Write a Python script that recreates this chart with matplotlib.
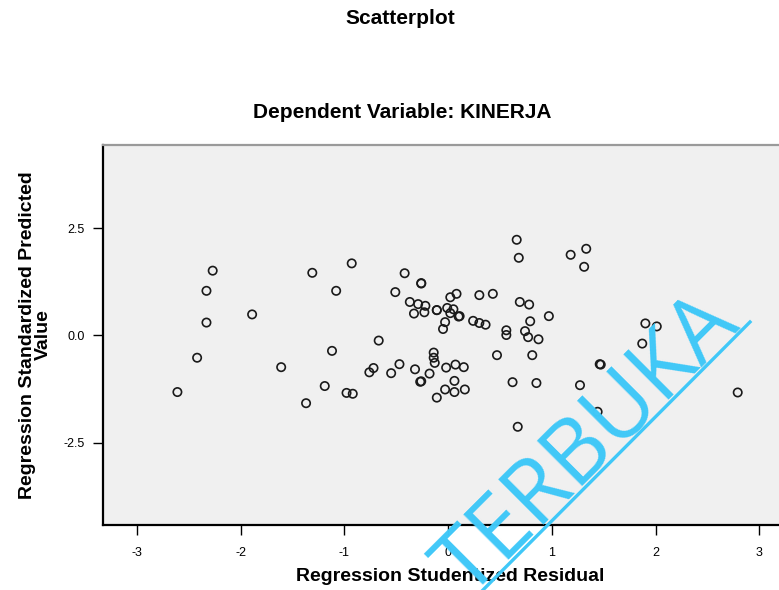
import numpy as np
import matplotlib
matplotlib.use("Agg")
import matplotlib.pyplot as plt
from matplotlib.lines import Line2D

plt.rcParams['font.family'] = ['Liberation Sans', 'DejaVu Sans']

# studentized residual (x) vs standardized predicted value (y)
resid = [-2.27, -2.33, -2.33, -1.89, -1.31, -1.08, -0.93, -2.42, -2.61, -1.61,
         -1.12, -1.19, -1.37, -0.98, -0.92, -0.67, -0.76, -0.72, -0.55, -0.47,
         -0.32, -0.18, -0.27, -0.26, -0.14, -0.14, -0.13, -0.02, 0.07, 0.15,
         0.06, -0.03, 0.06, 0.16, -0.11, -0.42, -0.26, -0.26, -0.51, -0.37,
         -0.29, -0.22, -0.33, -0.23, -0.11, -0.11, 0.02, 0.08, -0.01, 0.05,
         0.02, 0.10, 0.11, -0.03, -0.05, 0.30, 0.43, 0.24, 0.30, 0.36,
         0.56, 0.56, 0.66, 0.68, 0.69, 0.78, 0.79, 0.97, 0.74, 0.77,
         0.87, 0.47, 0.81, 0.62, 0.85, 0.67, 1.18, 1.33, 1.31, 1.90,
         2.01, 1.87, 1.46, 1.47, 1.27, 1.44, 2.79]
predicted = [1.51, 1.04, 0.30, 0.49, 1.46, 1.04, 1.68, -0.52, -1.32, -0.74,
             -0.36, -1.18, -1.58, -1.34, -1.36, -0.12, -0.86, -0.76, -0.88, -0.67,
             -0.79, -0.89, -1.08, -1.07, -0.40, -0.52, -0.64, -0.75, -0.68, -0.74,
             -1.06, -1.26, -1.32, -1.26, -1.45, 1.45, 1.22, 1.21, 1.01, 0.78,
             0.73, 0.69, 0.51, 0.54, 0.59, 0.59, 0.89, 0.97, 0.64, 0.61,
             0.52, 0.44, 0.45, 0.31, 0.15, 0.94, 0.97, 0.34, 0.29, 0.25,
             0.12, 0.01, 2.23, 1.81, 0.78, 0.72, 0.33, 0.45, 0.10, -0.04,
             -0.09, -0.46, -0.46, -1.09, -1.11, -2.13, 1.88, 2.02, 1.60, 0.28,
             0.21, -0.19, -0.67, -0.68, -1.16, -1.78, -1.33]

x_ticks = [-3, -2, -1, 0, 1, 2, 3]
y_ticks = [-2.5, 0.0, 2.5]

W, H = 779, 590
fig = plt.figure(figsize=(W / 100, H / 100), dpi=100)
fig.patch.set_facecolor('white')

# plot frame runs past the right edge, as in the cropped original
ax = fig.add_axes([102.7 / W, 65 / H, 690 / W, 380 / H])
ax.set_facecolor('#f0f0f0')
ax.scatter(resid, predicted, s=36, facecolors='none', edgecolors='#1a1a1a',
           linewidths=1.2, zorder=3)

ax.set_xlim(-3.33, 3.32)
ax.set_ylim(-4.42, 4.44)
ax.set_xticks(x_ticks)
ax.set_xticklabels([str(t) for t in x_ticks])
ax.set_yticks(y_ticks)
ax.set_yticklabels(['-2.5', '0.0', '2.5'])
ax.tick_params(direction='out', length=7, width=1, labelsize=9, colors='black')
ax.tick_params(axis='x', pad=9)
ax.tick_params(axis='y', pad=6)

for side in ['left', 'bottom']:
    ax.spines[side].set_color('black')
    ax.spines[side].set_linewidth(1.6)
ax.spines['top'].set_color('#9a9a9a')
ax.spines['top'].set_linewidth(1.6)
ax.spines['right'].set_visible(False)

ax.set_xlabel('Regression Studentized Residual', fontsize=14, fontweight='bold')
ax.set_ylabel('Regression Standardized Predicted\nValue', fontsize=14,
              fontweight='bold', linespacing=0.95)
ax.xaxis.set_label_coords((450 - 102.7) / 690, -0.113)
ax.yaxis.set_label_coords(-0.073, 0.5)

fig.text(400 / W, 1 - 19 / H, 'Scatterplot', ha='center', va='center',
         fontsize=15, fontweight='bold')
fig.text(402 / W, 1 - 112 / H, 'Dependent Variable: KINERJA', ha='center', va='center',
         fontsize=15, fontweight='bold')

# cyan watermark
wm = '#40c8f8'
fig.add_artist(Line2D([470 / W, 750 / W], [1 - 603 / H, 1 - 322 / H],
                      color=wm, linewidth=2.4, zorder=10))
fig.text(588 / W, 1 - 446 / H, 'TERBUKA', ha='center', va='center',
         rotation=45, rotation_mode='anchor', fontsize=64, color=wm,
         family=['Open Sans', 'DejaVu Sans'], zorder=10)

fig.savefig('out.png', dpi=100)
